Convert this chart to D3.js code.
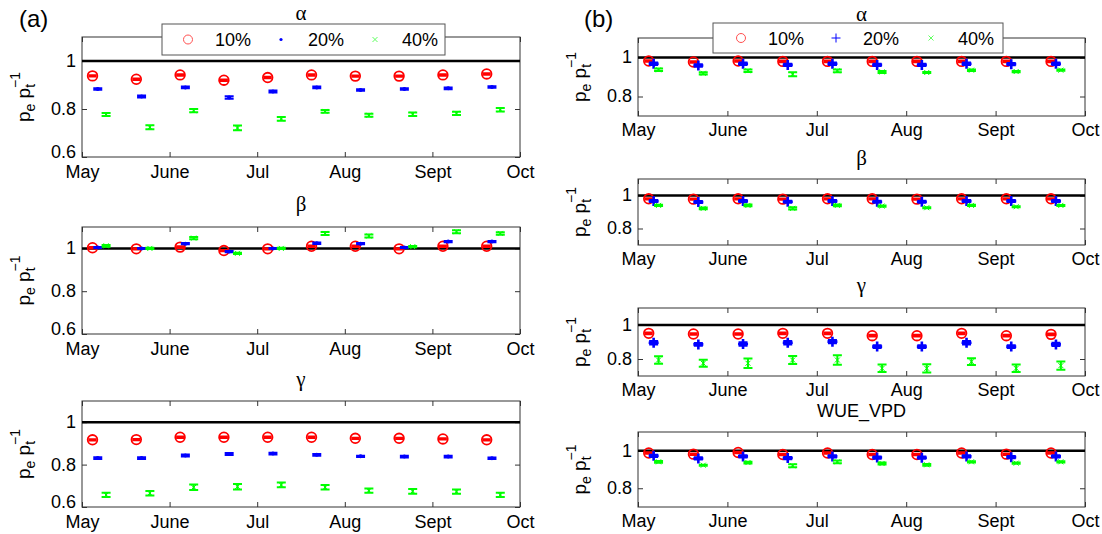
<!DOCTYPE html>
<html lang="en">
<head>
<meta charset="UTF-8">
<title>pe/pt ratios by month</title>
<script src="https://d3js.org/d3.v7.min.js"></script>
<style>
    body { margin: 0; background: #fff; }
    text { font-family: "Liberation Sans", Arial, sans-serif; fill: #000; }
    .tick text { font-size: 18px; }
    .title { font-family: "Liberation Serif", "Times New Roman", serif; font-size: 21px; }
    .wue { font-family: "Liberation Sans", Arial, sans-serif; font-size: 18px; }
</style>
</head>
<body>
<div id="chart"></div>
<script>
    // months on the x axis (May = 0 ... Oct = 5)
    const monthLabels = ["May", "June", "Jul", "Aug", "Sept", "Oct"];
    // position of each half-month run, in months after 1 May
    const periodX = [0.12, 0.62, 1.12, 1.62, 2.12, 2.62, 3.12, 3.62, 4.12, 4.62];
    const seriesNames = ["10%", "20%", "40%"];

    // panel (a)
    const aAlpha10 = [0.938, 0.924, 0.942, 0.920, 0.931, 0.942, 0.937, 0.937, 0.942, 0.946];
    const aAlpha20 = [0.883, 0.852, 0.890, 0.848, 0.873, 0.890, 0.879, 0.883, 0.886, 0.892];
    const aAlpha40 = [0.777, 0.724, 0.793, 0.721, 0.759, 0.790, 0.774, 0.778, 0.782, 0.797];
    const aAlpha10Err = [0.003, 0.003, 0.003, 0.003, 0.003, 0.003, 0.003, 0.003, 0.003, 0.003];
    const aAlpha20Err = [0.003, 0.004, 0.004, 0.005, 0.004, 0.004, 0.003, 0.003, 0.004, 0.003];
    const aAlpha40Err = [0.006, 0.008, 0.007, 0.010, 0.008, 0.006, 0.006, 0.007, 0.007, 0.007];

    const aBeta10 = [1.003, 0.998, 1.006, 0.990, 0.998, 1.010, 1.010, 0.998, 1.010, 1.010];
    const aBeta20 = [1.004, 1.000, 1.022, 0.985, 1.000, 1.024, 1.022, 1.004, 1.032, 1.032];
    const aBeta40 = [1.012, 1.000, 1.048, 0.977, 1.000, 1.070, 1.058, 1.008, 1.078, 1.070];
    const aBeta10Err = [0.003, 0.003, 0.004, 0.003, 0.003, 0.004, 0.004, 0.003, 0.004, 0.004];
    const aBeta20Err = [0.002, 0.002, 0.003, 0.003, 0.002, 0.003, 0.003, 0.002, 0.003, 0.003];
    const aBeta40Err = [0.004, 0.003, 0.005, 0.003, 0.003, 0.007, 0.007, 0.003, 0.007, 0.006];

    const aGamma10 = [0.917, 0.918, 0.929, 0.929, 0.929, 0.929, 0.924, 0.924, 0.921, 0.917];
    const aGamma20 = [0.831, 0.831, 0.843, 0.850, 0.852, 0.846, 0.839, 0.838, 0.838, 0.830];
    const aGamma40 = [0.657, 0.665, 0.693, 0.696, 0.704, 0.693, 0.677, 0.674, 0.672, 0.657];
    const aGamma10Err = [0.003, 0.003, 0.003, 0.003, 0.003, 0.003, 0.003, 0.003, 0.003, 0.003];
    const aGamma20Err = [0.004, 0.004, 0.005, 0.005, 0.004, 0.004, 0.003, 0.004, 0.004, 0.004];
    const aGamma40Err = [0.010, 0.011, 0.013, 0.013, 0.011, 0.011, 0.010, 0.011, 0.010, 0.010];

    // panel (b)
    const bAlpha10 = [0.982, 0.977, 0.982, 0.980, 0.980, 0.980, 0.980, 0.980, 0.980, 0.980];
    const bAlpha20 = [0.968, 0.959, 0.968, 0.962, 0.968, 0.962, 0.962, 0.968, 0.966, 0.968];
    const bAlpha40 = [0.937, 0.919, 0.932, 0.914, 0.932, 0.926, 0.923, 0.935, 0.928, 0.935];
    const bAlpha10Err = [0.004, 0.004, 0.004, 0.004, 0.004, 0.004, 0.004, 0.004, 0.004, 0.004];
    const bAlpha20Err = [0.006, 0.006, 0.006, 0.006, 0.006, 0.006, 0.006, 0.006, 0.006, 0.006];
    const bAlpha40Err = [0.006, 0.006, 0.006, 0.010, 0.007, 0.005, 0.003, 0.004, 0.003, 0.003];

    const bBeta10 = [0.980, 0.978, 0.980, 0.978, 0.980, 0.980, 0.978, 0.980, 0.980, 0.980];
    const bBeta20 = [0.966, 0.960, 0.966, 0.962, 0.966, 0.962, 0.962, 0.966, 0.966, 0.966];
    const bBeta40 = [0.940, 0.922, 0.940, 0.922, 0.940, 0.936, 0.926, 0.940, 0.932, 0.940];
    const bBeta10Err = [0.004, 0.004, 0.004, 0.004, 0.004, 0.004, 0.004, 0.004, 0.004, 0.004];
    const bBeta20Err = [0.006, 0.006, 0.006, 0.006, 0.006, 0.006, 0.006, 0.006, 0.006, 0.006];
    const bBeta40Err = [0.004, 0.006, 0.005, 0.007, 0.005, 0.004, 0.003, 0.004, 0.003, 0.003];

    const bGamma10 = [0.951, 0.947, 0.947, 0.951, 0.951, 0.937, 0.937, 0.951, 0.937, 0.945];
    const bGamma20 = [0.896, 0.886, 0.888, 0.896, 0.902, 0.873, 0.873, 0.896, 0.873, 0.886];
    const bGamma40 = [0.794, 0.775, 0.775, 0.794, 0.794, 0.745, 0.745, 0.784, 0.745, 0.761];
    const bGamma10Err = [0.005, 0.005, 0.005, 0.005, 0.005, 0.005, 0.005, 0.005, 0.005, 0.005];
    const bGamma20Err = [0.010, 0.008, 0.010, 0.010, 0.010, 0.008, 0.008, 0.010, 0.008, 0.010];
    const bGamma40Err = [0.022, 0.020, 0.028, 0.024, 0.028, 0.022, 0.024, 0.020, 0.022, 0.024];

    const bWue10 = [0.988, 0.982, 0.991, 0.980, 0.988, 0.980, 0.980, 0.988, 0.982, 0.988];
    const bWue20 = [0.973, 0.959, 0.970, 0.961, 0.970, 0.964, 0.963, 0.970, 0.966, 0.970];
    const bWue40 = [0.941, 0.923, 0.937, 0.920, 0.941, 0.932, 0.925, 0.941, 0.934, 0.941];
    const bWue10Err = [0.004, 0.004, 0.004, 0.004, 0.004, 0.004, 0.004, 0.004, 0.004, 0.004];
    const bWue20Err = [0.006, 0.006, 0.006, 0.006, 0.006, 0.006, 0.006, 0.006, 0.006, 0.006];
    const bWue40Err = [0.005, 0.003, 0.005, 0.008, 0.007, 0.005, 0.005, 0.003, 0.003, 0.003];

    const W = 1102, H = 534;
    const colors = ["#ff0000", "#0000ff", "#00ff00"];

    const svg = d3.select("#chart").append("svg")
        .attr("width", W).attr("height", H);

    // layout of the two columns of axes
    const colA = { x: [82, 520], domain: [0.6, 1.1], ticks: [0.6, 0.8, 1], offsets: [0, 0.06, 0.155], markers: ["circle", "dot", "x"], xPad: 8 };
    const colB = { x: [638, 1085], domain: [0.7, 1.1], ticks: [0.8, 1], offsets: [0, 0.055, 0.11], markers: ["circle", "plus", "x"], xPad: 7 };

    const panels = [
        { col: colA, y: [157, 37], title: "α", titleY: 20, vals: [aAlpha10, aAlpha20, aAlpha40], errs: [aAlpha10Err, aAlpha20Err, aAlpha40Err] },
        { col: colA, y: [334, 227], title: "β", titleY: 211, vals: [aBeta10, aBeta20, aBeta40], errs: [aBeta10Err, aBeta20Err, aBeta40Err] },
        { col: colA, y: [507, 401], title: "γ", titleY: 386, vals: [aGamma10, aGamma20, aGamma40], errs: [aGamma10Err, aGamma20Err, aGamma40Err] },
        { col: colB, y: [116, 38], title: "α", titleY: 21, vals: [bAlpha10, bAlpha20, bAlpha40], errs: [bAlpha10Err, bAlpha20Err, bAlpha40Err] },
        { col: colB, y: [245, 179], title: "β", titleY: 165, vals: [bBeta10, bBeta20, bBeta40], errs: [bBeta10Err, bBeta20Err, bBeta40Err] },
        { col: colB, y: [376, 308], title: "γ", titleY: 292, vals: [bGamma10, bGamma20, bGamma40], errs: [bGamma10Err, bGamma20Err, bGamma40Err] },
        { col: colB, y: [507, 432], title: "WUE_VPD", titleY: 417, vals: [bWue10, bWue20, bWue40], errs: [bWue10Err, bWue20Err, bWue40Err] }
    ];

    function drawMarker(g, type, cx, cy, color, big) {
        if (type === "circle") {
            g.append("circle").attr("cx", cx).attr("cy", cy).attr("r", big ? 4.8 : 4.5)
                .attr("fill", "none").attr("stroke", color).attr("stroke-width", big ? 1.8 : 1);
        } else if (type === "dot") {
            g.append("circle").attr("cx", cx).attr("cy", cy).attr("r", big ? 2 : 1.6).attr("fill", color);
        } else if (type === "plus") {
            const s = big ? 5 : 4.5;
            g.append("path").attr("d", `M${cx - s},${cy}H${cx + s}M${cx},${cy - s}V${cy + s}`)
                .attr("stroke", color).attr("stroke-width", big ? 2.6 : 1);
        } else if (type === "x") {
            const s = 2.5;
            g.append("path").attr("d", `M${cx - s},${cy - s}L${cx + s},${cy + s}M${cx - s},${cy + s}L${cx + s},${cy - s}`)
                .attr("stroke", color).attr("stroke-width", 1);
        }
    }

    function drawYLabel(x, y) {
        const t = svg.append("text")
            .attr("transform", `translate(${x},${y}) rotate(-90)`)
            .attr("text-anchor", "middle")
            .style("font-size", "19px");
        t.append("tspan").text("p");
        t.append("tspan").attr("dy", 5).style("font-size", "14px").text("e");
        t.append("tspan").attr("dy", -5).text(" p");
        t.append("tspan").attr("dy", 5).style("font-size", "14px").text("t");
        t.append("tspan").attr("dx", -4).attr("dy", -15).style("font-size", "14px").text("−1");
    }

    panels.forEach(p => {
        const c = p.col;
        const x = d3.scaleLinear().domain([0, 5]).range(c.x);
        const y = d3.scaleLinear().domain(c.domain).range(p.y);
        const g = svg.append("g");

        // inward ticks on all four sides
        g.append("g").attr("transform", `translate(0,${p.y[0]})`)
            .call(d3.axisBottom(x).tickValues(d3.range(6)).tickSizeInner(-5).tickSizeOuter(0)
                .tickPadding(c.xPad).tickFormat(i => monthLabels[i]))
            .call(a => a.select(".domain").remove());
        g.append("g").attr("transform", `translate(0,${p.y[1]})`)
            .call(d3.axisTop(x).tickValues(d3.range(6)).tickSizeInner(-5).tickSizeOuter(0).tickFormat(""))
            .call(a => a.select(".domain").remove());
        g.append("g").attr("transform", `translate(${c.x[0]},0)`)
            .call(d3.axisLeft(y).tickValues(c.ticks).tickSizeInner(-5).tickSizeOuter(0)
                .tickPadding(6).tickFormat(d => d === 1 ? "1" : d3.format(".1f")(d)))
            .call(a => a.select(".domain").remove())
            .call(a => a.selectAll(".tick text").attr("dy", d => d === c.domain[0] ? "0em" : "0.3em"));
        g.append("g").attr("transform", `translate(${c.x[1]},0)`)
            .call(d3.axisRight(y).tickValues(c.ticks).tickSizeInner(-5).tickSizeOuter(0).tickFormat(""))
            .call(a => a.select(".domain").remove());
        g.selectAll(".tick line").attr("stroke", "#333");
        g.selectAll(".tick text").attr("fill", "#000");

        g.append("rect")
            .attr("x", c.x[0]).attr("y", p.y[1])
            .attr("width", c.x[1] - c.x[0]).attr("height", p.y[0] - p.y[1])
            .attr("fill", "none").attr("stroke", "#333").attr("stroke-width", 1);

        // reference line at 1
        g.append("line")
            .attr("x1", c.x[0]).attr("x2", c.x[1])
            .attr("y1", y(1)).attr("y2", y(1))
            .attr("stroke", "#000").attr("stroke-width", 2.5);

        // error bars and markers
        p.vals.forEach((vals, s) => {
            vals.forEach((v, i) => {
                const cx = x(periodX[i] + c.offsets[s]);
                const lo = y(v - p.errs[s][i]), hi = y(v + p.errs[s][i]);
                const cw = s === 0 ? 4 : 4.5;
                g.append("path")
                    .attr("d", `M${cx},${lo}V${hi}M${cx - cw},${lo}H${cx + cw}M${cx - cw},${hi}H${cx + cw}`)
                    .attr("fill", "none").attr("stroke", colors[s]).attr("stroke-width", 2);
                drawMarker(g, c.markers[s], cx, y(v), colors[s], true);
            });
        });

        // panel title
        svg.append("text")
            .attr("class", p.title === "WUE_VPD" ? "wue" : "title")
            .attr("x", (c.x[0] + c.x[1]) / 2).attr("y", p.titleY)
            .attr("text-anchor", "middle").text(p.title);

        drawYLabel(c.x[0] - 52, (p.y[0] + p.y[1]) / 2);
    });

    // legends
    function drawLegend(box, markers, itemX) {
        const lg = svg.append("g");
        lg.append("rect").attr("x", box[0]).attr("y", box[1])
            .attr("width", box[2]).attr("height", box[3])
            .attr("fill", "#fff").attr("stroke", "#555").attr("stroke-width", 1);
        seriesNames.forEach((name, i) => {
            const cy = box[1] + box[3] / 2;
            drawMarker(lg, markers[i], itemX[i], cy, i === 0 ? "#ff5050" : (i === 2 ? "#60ff60" : colors[i]), false);
            lg.append("text").attr("x", itemX[i] + 27).attr("y", cy + 6.5)
                .style("font-size", "18px").text(name);
        });
    }
    drawLegend([162, 24, 283, 31], colA.markers, [188, 281, 375]);
    drawLegend([713, 23, 290, 30], colB.markers, [741, 836, 931]);

    // panel letters
    svg.append("text").attr("x", 19).attr("y", 27).style("font-size", "24px").text("(a)");
    svg.append("text").attr("x", 584).attr("y", 27).style("font-size", "24px").text("(b)");
</script>
</body>
</html>
